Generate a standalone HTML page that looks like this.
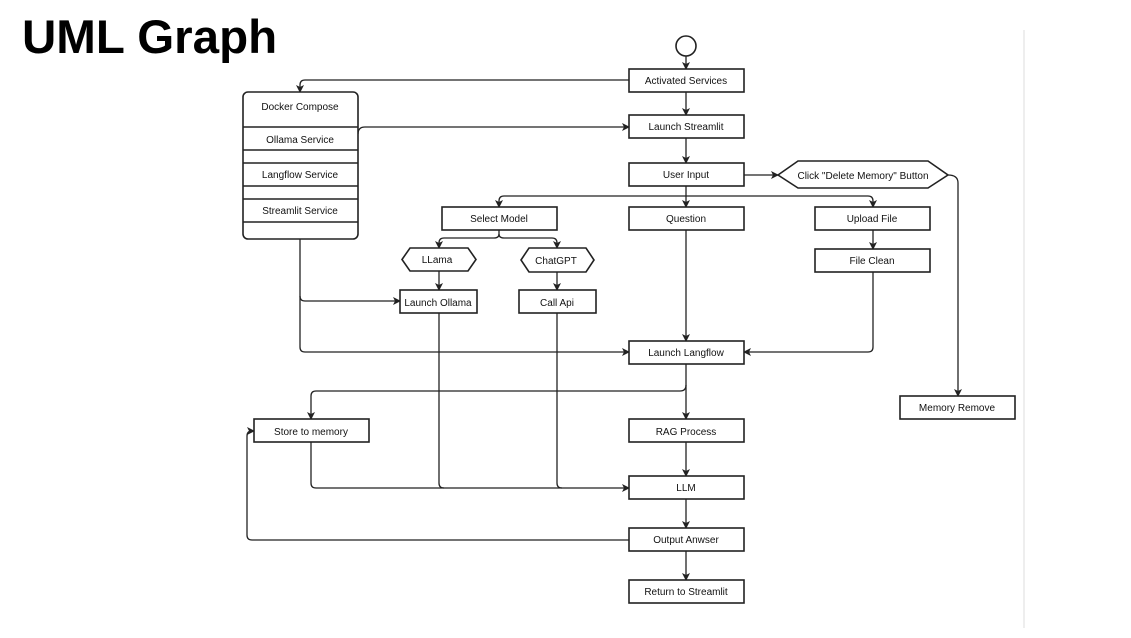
<!DOCTYPE html>
<html><head><meta charset="utf-8"><style>
html,body{margin:0;padding:0;background:#fff;}
body{width:1131px;height:638px;position:relative;overflow:hidden;font-family:"Liberation Sans",sans-serif;}
h1{position:absolute;left:22px;top:10px;margin:0;font-size:47.5px;font-weight:bold;line-height:56px;color:#000;}
svg{position:absolute;left:0;top:0;}
svg text{font-family:"Liberation Sans",sans-serif;font-size:10px;fill:#111;text-anchor:middle;}
.b{fill:#fff;stroke:#222;stroke-width:1.6;}
.l{fill:none;stroke:#222;stroke-width:1.3;}
</style></head><body>
<h1>UML Graph</h1>
<svg width="1131" height="638" viewBox="0 0 1131 638">
<defs><marker id="a" markerWidth="8" markerHeight="8" refX="7" refY="4" orient="auto" markerUnits="userSpaceOnUse"><path d="M0,0 L8,4 L0,8 L2,4 z" fill="#222"/></marker></defs>
<line x1="1024" y1="30" x2="1024" y2="628" stroke="#eee" stroke-width="2"/>
<g class="l" marker-end="url(#a)">
<path d="M686,56 V69"/>
<path d="M629,80 H305 Q300,80 300,85 V92"/>
<path d="M686,92 V115"/>
<path d="M358,134 Q358,127 365,127 H629"/>
<path d="M686,138 V163"/>
<path d="M744,175 H778"/>
<path d="M948,175 Q958,175 958,183 V396"/>
<path d="M686,186 V207"/>
<path d="M686,196 H504 Q499,196 499,201 V207"/>
<path d="M686,196 H868 Q873,196 873,201 V207"/>
<path d="M499,230 V234 Q499,238 494,238 H444 Q439,238 439,243 V248"/>
<path d="M499,234 Q499,238 504,238 H552 Q557,238 557,243 V248"/>
<path d="M439,271 V290"/>
<path d="M557,272 V290"/>
<path d="M873,230 V249"/>
<path d="M300,239 V296 Q300,301 305,301 H400"/>
<path d="M300,296 V347 Q300,352 305,352 H629"/>
<path d="M686,230 V341"/>
<path d="M873,272 V347 Q873,352 868,352 H744"/>
<path d="M686,364 V419"/>
<path d="M686,385 Q686,391 680,391 H316 Q311,391 311,396 V419"/>
<path d="M686,442 V476"/>
<path d="M311,442 V483 Q311,488 316,488 H629"/>
<path d="M686,499 V528"/>
<path d="M629,540 H252 Q247,540 247,535 V436 Q247,431 252,431 H254"/>
<path d="M686,551 V580"/>
</g>
<g class="l">
<path d="M439,313 V483 Q439,488 444,488"/>
<path d="M557,313 V483 Q557,488 562,488"/>
</g>
<circle cx="686" cy="46" r="10" class="b"/>
<rect x="243" y="92" width="115" height="147" rx="5" class="b"/>
<g class="l" style="stroke-width:1.6">
<line x1="243" y1="127" x2="358" y2="127"/><line x1="243" y1="150" x2="358" y2="150"/>
<line x1="243" y1="163" x2="358" y2="163"/><line x1="243" y1="186" x2="358" y2="186"/>
<line x1="243" y1="199" x2="358" y2="199"/><line x1="243" y1="222" x2="358" y2="222"/>
</g>
<text x="300" y="110">Docker Compose</text>
<text x="300" y="143">Ollama Service</text>
<text x="300" y="178">Langflow Service</text>
<text x="300" y="214">Streamlit Service</text>

<rect x="629" y="69" width="115" height="23" class="b"/><text x="686" y="84">Activated Services</text>
<rect x="629" y="115" width="115" height="23" class="b"/><text x="686" y="130">Launch Streamlit</text>
<rect x="629" y="163" width="115" height="23" class="b"/><text x="686" y="178">User Input</text>
<rect x="629" y="207" width="115" height="23" class="b"/><text x="686" y="222">Question</text>
<rect x="442" y="207" width="115" height="23" class="b"/><text x="499" y="222">Select Model</text>
<rect x="815" y="207" width="115" height="23" class="b"/><text x="872" y="222">Upload File</text>
<rect x="815" y="249" width="115" height="23" class="b"/><text x="872" y="264">File Clean</text>
<polygon points="778,175 798,161 928,161 948,175 928,188 798,188" class="b"/><text x="863" y="179">Click "Delete Memory" Button</text>
<polygon points="402,259.5 410,248 468,248 476,259.5 468,271 410,271" class="b"/><text x="437" y="263">LLama</text>
<polygon points="521,260 529,248 586,248 594,260 586,272 529,272" class="b"/><text x="556" y="264">ChatGPT</text>
<rect x="400" y="290" width="77" height="23" class="b"/><text x="438" y="306">Launch Ollama</text>
<rect x="519" y="290" width="77" height="23" class="b"/><text x="557" y="306">Call Api</text>
<rect x="629" y="341" width="115" height="23" class="b"/><text x="686" y="356">Launch Langflow</text>
<rect x="900" y="396" width="115" height="23" class="b"/><text x="957" y="411">Memory Remove</text>
<rect x="254" y="419" width="115" height="23" class="b"/><text x="311" y="435">Store to memory</text>
<rect x="629" y="419" width="115" height="23" class="b"/><text x="686" y="435">RAG Process</text>
<rect x="629" y="476" width="115" height="23" class="b"/><text x="686" y="491">LLM</text>
<rect x="629" y="528" width="115" height="23" class="b"/><text x="686" y="543">Output Anwser</text>
<rect x="629" y="580" width="115" height="23" class="b"/><text x="686" y="595">Return to Streamlit</text>
</svg>
</body></html>
